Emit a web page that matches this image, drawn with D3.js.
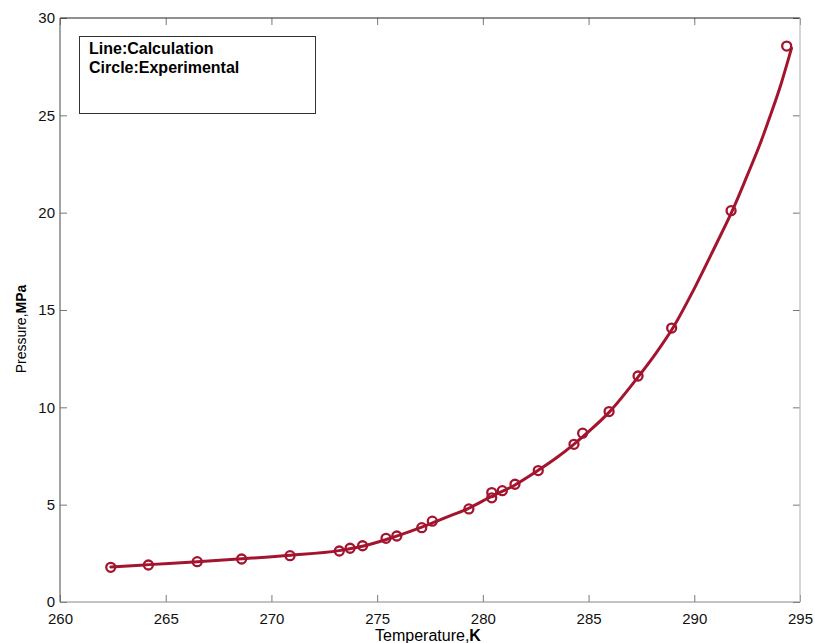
<!DOCTYPE html>
<html>
<head>
<meta charset="utf-8">
<script src="https://cdn.jsdelivr.net/npm/d3@7/dist/d3.min.js"></script>
<style>
  html, body { margin: 0; padding: 0; background: #fff; }
  svg { display: block; font-family: "Liberation Sans", Arial, sans-serif; }
</style>
</head>
<body>
<svg id="chart" width="815" height="643"></svg>
<script>
// Experimental hydrate equilibrium points (temperature in K, pressure in MPa)
const expT = [262.40, 264.18, 266.49, 268.59, 270.88, 273.21, 273.72, 274.31,
  275.42, 275.93, 277.11, 277.61, 279.34, 280.42, 280.42, 280.92, 281.52,
  282.62, 284.31, 284.72, 285.97, 287.34, 288.93, 291.74, 294.37];
const expP = [1.78, 1.90, 2.07, 2.21, 2.38, 2.62, 2.76, 2.89,
  3.27, 3.39, 3.82, 4.15, 4.78, 5.35, 5.62, 5.72, 6.05,
  6.75, 8.10, 8.67, 9.78, 11.61, 14.07, 20.10, 28.56];

// Calculated equilibrium curve
const calcT = [262.4, 264.2, 266.5, 268.6, 270.9, 273.2, 274.3, 275.4, 276.5,
  277.6, 278.5, 279.3, 280.4, 281.5, 282.6, 283.5, 284.3, 285.0, 286.0, 287.3,
  288.2, 289.0, 290.0, 291.0, 291.8, 292.5, 293.1, 293.6, 294.1, 294.6];
const calcP = [1.80, 1.92, 2.07, 2.22, 2.40, 2.64, 2.86, 3.20, 3.60,
  4.05, 4.45, 4.80, 5.42, 6.00, 6.75, 7.42, 8.10, 8.75, 9.78, 11.5,
  12.8, 14.1, 16.1, 18.3, 20.1, 21.9, 23.5, 25.0, 26.6, 28.45];

const xTicks = [260, 265, 270, 275, 280, 285, 290, 295];
const yTicks = [0, 5, 10, 15, 20, 25, 30];
const legendLines = ["Line:Calculation", "Circle:Experimental"];

const color = "#a3142f";
const svg = d3.select("#chart");
const plot = { left: 60, right: 800, top: 18, bottom: 602 };

const x = d3.scaleLinear().domain([260, 295]).range([plot.left, plot.right]);
const y = d3.scaleLinear().domain([0, 30]).range([plot.bottom, plot.top]);

// Axes: labelled bottom/left, mirrored tick marks on top/right, ticks pointing inward
const tickLen = 7;
const bottomAxis = d3.axisBottom(x).tickValues(xTicks).tickSize(-tickLen).tickPadding(11).tickFormat(d3.format("d"));
const topAxis = d3.axisTop(x).tickValues(xTicks).tickSize(-tickLen).tickFormat("");
const leftAxis = d3.axisLeft(y).tickValues(yTicks).tickSize(-tickLen).tickPadding(5).tickFormat(d3.format("d"));
const rightAxis = d3.axisRight(y).tickValues(yTicks).tickSize(-tickLen).tickFormat("");

function styleAxis(g) {
  g.select(".domain").remove();
  g.selectAll(".tick line").attr("stroke", "#777").attr("stroke-width", 1);
  g.selectAll(".tick text").attr("fill", "#111").style("font-size", "15px")
    .style("font-family", "'Liberation Sans', Arial, sans-serif");
}

svg.append("g").attr("transform", `translate(0,${plot.bottom})`).call(bottomAxis).call(styleAxis);
svg.append("g").attr("transform", `translate(0,${plot.top})`).call(topAxis).call(styleAxis);
svg.append("g").attr("transform", `translate(${plot.left},0)`).call(leftAxis).call(styleAxis);
svg.append("g").attr("transform", `translate(${plot.right},0)`).call(rightAxis).call(styleAxis);

// Frame edges
const frame = svg.append("g").attr("fill", "none").attr("stroke-width", 1.2);
frame.append("line").attr("x1", plot.left).attr("x2", plot.right).attr("y1", plot.top).attr("y2", plot.top).attr("stroke", "#222");
frame.append("line").attr("x1", plot.left).attr("x2", plot.left).attr("y1", plot.top).attr("y2", plot.bottom).attr("stroke", "#666");
frame.append("line").attr("x1", plot.left).attr("x2", plot.right).attr("y1", plot.bottom).attr("y2", plot.bottom).attr("stroke", "#888");
frame.append("line").attr("x1", plot.right).attr("x2", plot.right).attr("y1", plot.top).attr("y2", plot.bottom).attr("stroke", "#bbb");

// Calculated curve
const calc = calcT.map((t, i) => ({ t, p: calcP[i] }));
svg.append("path")
  .datum(calc)
  .attr("fill", "none")
  .attr("stroke", color)
  .attr("stroke-width", 3)
  .attr("stroke-linejoin", "round")
  .attr("stroke-linecap", "round")
  .attr("d", d3.line().x(d => x(d.t)).y(d => y(d.p)).curve(d3.curveMonotoneX));

// Experimental markers
const exp = expT.map((t, i) => ({ t, p: expP[i] }));
svg.append("g").selectAll("circle")
  .data(exp)
  .join("circle")
  .attr("cx", d => x(d.t))
  .attr("cy", d => y(d.p))
  .attr("r", 4.5)
  .attr("fill", "none")
  .attr("stroke", color)
  .attr("stroke-width", 2.3);

// Legend box
const legend = svg.append("g");
legend.append("rect")
  .attr("x", 79.5).attr("y", 36.5).attr("width", 236).attr("height", 77)
  .attr("fill", "#fff").attr("stroke", "#333").attr("stroke-width", 1);
legend.selectAll("text")
  .data(legendLines)
  .join("text")
  .attr("x", 89)
  .attr("y", (d, i) => 54 + i * 19)
  .attr("fill", "#000")
  .style("font-size", "16px")
  .style("font-weight", "bold")
  .text(d => d);

// Axis titles: quantity in regular weight, unit in bold
const xTitle = svg.append("text")
  .attr("x", (plot.left + plot.right) / 2 - 2)
  .attr("y", 641)
  .attr("text-anchor", "middle")
  .attr("fill", "#000")
  .style("font-size", "16px");
xTitle.append("tspan").text("Temperature,");
xTitle.append("tspan").style("font-weight", "bold").text("K");

const yTitle = svg.append("text")
  .attr("transform", `translate(26,329) rotate(-90)`)
  .attr("text-anchor", "middle")
  .attr("fill", "#000")
  .style("font-size", "14px");
yTitle.append("tspan").text("Pressure,");
yTitle.append("tspan").style("font-weight", "bold").text("MPa");
</script>
</body>
</html>
